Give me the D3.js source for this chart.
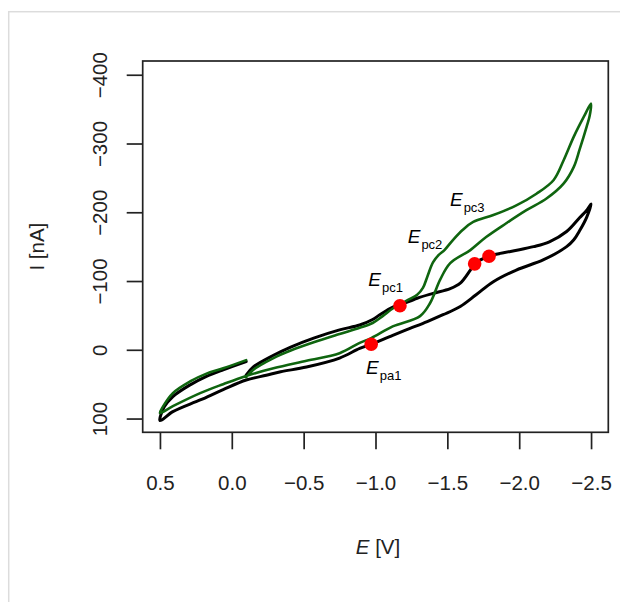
<!DOCTYPE html>
<html><head><meta charset="utf-8">
<script src="https://cdn.jsdelivr.net/npm/d3@7"></script>
<style>
html,body{margin:0;padding:0;background:#fff;}
svg{display:block;font-family:"Liberation Sans",Arial,Helvetica,sans-serif;}
</style></head>
<body><svg id="chart" width="620" height="602"></svg>
<script>
// ---- data (E in V, I in nA), in scan order ----
const blackE = [-0.10,-0.15,-0.29,-0.41,-0.57,-0.75,-0.89,-0.98,-1.03,-1.12,-1.17,-1.29,-1.40,-1.52,-1.59,-1.66,-1.69,-1.79,-1.94,-2.10,-2.21,-2.33,-2.42,-2.47,-2.50,
  -2.47,-2.42,-2.38,-2.33,-2.17,-1.98,-1.82,-1.70,-1.59,-1.47,-1.36,-1.24,-1.12,-0.97,-0.89,-0.75,-0.52,-0.34,-0.24,-0.10,0.06,0.22,0.41,0.50,
  0.47,0.41,0.29,0.18,0.06,-0.10];
const blackI = [37,25,8,-4,-17,-29,-36,-44,-51,-62,-65,-75,-82,-89,-97,-116,-125,-136,-143,-150,-157,-172,-192,-203,-212,
  -193,-173,-160,-150,-131,-116,-99,-80,-63,-51,-41,-31,-21,-8,-2,12,25,32,37,44,58,73,90,103,
  83,68,51,39,29,17];
const greenE = [-0.10,-0.15,-0.29,-0.41,-0.57,-0.75,-0.89,-0.98,-1.05,-1.12,-1.17,-1.24,-1.29,-1.33,-1.36,-1.40,-1.44,-1.48,-1.54,-1.61,-1.68,-1.82,-1.98,-2.12,-2.24,-2.31,-2.38,-2.45,-2.50,
  -2.49,-2.47,-2.42,-2.38,-2.31,-2.19,-2.05,-1.91,-1.77,-1.66,-1.52,-1.45,-1.38,-1.31,-1.12,-0.97,-0.89,-0.75,-0.52,-0.29,-0.10,0.06,0.22,0.41,0.50,
  0.48,0.41,0.29,0.18,0.06,-0.10];
const greenI = [40,29,12,1,-11,-23,-32,-39,-49,-60,-66,-74,-80,-90,-106,-127,-138,-145,-160,-175,-186,-196,-210,-227,-247,-276,-310,-339,-358,
  -340,-325,-291,-266,-242,-220,-203,-184,-164,-145,-126,-102,-68,-49,-34,-17,-10,5,16,27,38,50,63,82,92,
  83,63,46,35,27,15];
const pointE = [-1.17,-1.69,-1.79,-0.97];
const pointI = [-64,-125,-136,-8];
const labelSub = ["pc1","pc2","pc3","pa1"];
const labelE = [-0.95,-1.224,-1.518,-0.934];
const labelI = [-92.8,-154.9,-209.1,35.7];
const xTicks = [0.5,0.0,-0.5,-1.0,-1.5,-2.0,-2.5];
const yTicks = [100,0,-100,-200,-300,-400];
const xLim = [0.5,-2.5];
const yLim = [100,-400];

// ---- layout ----
const svg = d3.select("#chart");
const L = 142.7, R = 608.3, T = 61, B = 432.3;
const xpad = (xLim[0]-xLim[1])*0.04, ypad = (yLim[0]-yLim[1])*0.04;
const x = d3.scaleLinear().domain([xLim[0]+xpad, xLim[1]-xpad]).range([L,R]);
const y = d3.scaleLinear().domain([yLim[0]+ypad, yLim[1]-ypad]).range([B,T]);

// outer light border
svg.append("rect").attr("x",8.7).attr("y",11.7).attr("width",700).attr("height",700)
  .attr("fill","none").attr("stroke","#dcdcdc").attr("stroke-width",1.5);

const line = d3.line().x(d=>x(d[0])).y(d=>y(d[1])).curve(d3.curveCatmullRom.alpha(0.5));
const blk = blackE.map((e,i)=>[e,blackI[i]]);
const grn = greenE.map((e,i)=>[e,greenI[i]]);

svg.append("path").attr("d",line(blk)).attr("fill","none").attr("stroke","#000")
  .attr("stroke-width",3).attr("stroke-linejoin","round").attr("stroke-linecap","round");
svg.append("path").attr("d",line(grn)).attr("fill","none").attr("stroke","#0f650f")
  .attr("stroke-width",2.6).attr("stroke-linejoin","round").attr("stroke-linecap","round");

svg.selectAll("circle.pt").data(pointE).enter().append("circle").attr("class","pt")
  .attr("cx",(d)=>x(d)).attr("cy",(d,i)=>y(pointI[i])).attr("r",6.8).attr("fill","#ff0000");

// labels
labelSub.forEach((s,i)=>{
  const t = svg.append("text").attr("x",x(labelE[i])).attr("y",y(labelI[i]))
    .attr("text-anchor","start").attr("fill","#000");
  t.append("tspan").attr("font-size",19).attr("font-style","italic").text("E");
  t.append("tspan").attr("font-size",13).attr("dx",1).attr("dy",6).text(s);
});

// box
svg.append("rect").attr("x",L).attr("y",T).attr("width",R-L).attr("height",B-T)
  .attr("fill","none").attr("stroke","#222").attr("stroke-width",1.7);

// x axis
const fmt = d3.format(".1f");
const gx = svg.append("g").attr("transform",`translate(0,${B})`)
  .call(d3.axisBottom(x).tickValues(xTicks).tickFormat(fmt).tickSize(17).tickPadding(26));
gx.select(".domain").remove();
gx.selectAll(".tick line").attr("stroke","#222").attr("stroke-width",1.7);
gx.selectAll(".tick text").attr("font-size",20.5).attr("fill","#222").attr("font-family","Liberation Sans, Arial, sans-serif");

// y axis
const gy = svg.append("g").attr("transform",`translate(${L},0)`)
  .call(d3.axisLeft(y).tickValues(yTicks).tickFormat(d3.format("d")).tickSize(16));
gy.select(".domain").remove();
gy.selectAll(".tick line").attr("stroke","#222").attr("stroke-width",1.7);
gy.selectAll(".tick text").attr("font-size",20.5).attr("fill","#222")
  .attr("font-family","Liberation Sans, Arial, sans-serif")
  .attr("transform","rotate(-90)").attr("x",0).attr("y",-35.7).attr("dy",0)
  .attr("text-anchor","middle");

// titles
const xt = svg.append("text").attr("x",(L+R)/2+2.5).attr("y",554).attr("text-anchor","middle")
  .attr("font-size",20.5).attr("fill","#222");
xt.append("tspan").attr("font-style","italic").text("E");
xt.append("tspan").text(" [V]");
svg.append("text").attr("transform",`translate(44,${(T+B)/2}) rotate(-90)`)
  .attr("text-anchor","middle").attr("font-size",20.5).attr("fill","#222").text("I [nA]");
</script></body></html>
